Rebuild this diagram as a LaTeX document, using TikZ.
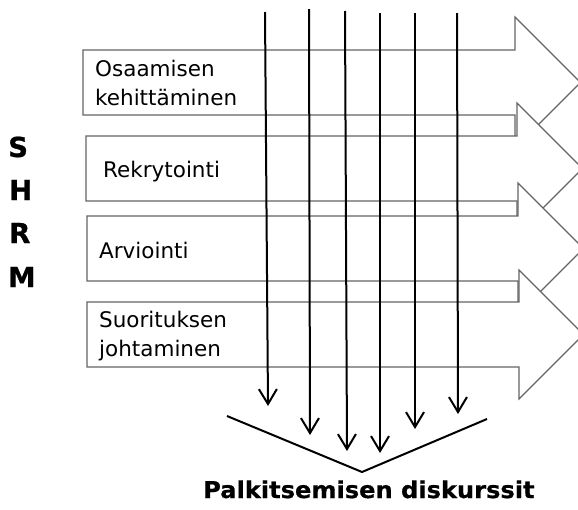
\documentclass[tikz,border=0pt]{standalone}
\usepackage{fontspec}
\setmainfont{DejaVu Sans}
\newfontfamily\bigbold[FakeStretch=1.04,FakeBold=0.6]{DejaVu Sans Bold}
\newfontfamily\sidebold[FakeBold=0.8]{DejaVu Sans Bold}
\usetikzlibrary{arrows.meta}
\definecolor{boxgray}{RGB}{100,100,100}
\begin{document}
\begin{tikzpicture}[x=1pt,y=-1pt,
  blockarrow/.style={draw=boxgray,line width=1.2pt,fill=white,line join=miter},
  flow/.style={draw=black,line width=2pt,-{Straight Barb[length=15pt,width=18pt,line width=2pt]}},
  vee/.style={draw=black,line width=2pt},
  boxtext/.style={anchor=base west,inner sep=0pt,font=\fontsize{21.5pt}{29pt}\selectfont,align=left},
  sidetext/.style={anchor=base west,inner sep=0pt,font=\sidebold\fontsize{27.5pt}{33pt}\selectfont},
  bottomtext/.style={anchor=base west,inner sep=0pt,font=\bigbold\fontsize{23.2pt}{27pt}\selectfont}]
\clip (0,0) rectangle (578,509);
\fill[white] (0,0) rectangle (578,509);
% block arrows
\draw[blockarrow] (83,50) -- (515,50) -- (515,17) -- (580.5,82.5) -- (515,148) -- (515,115) -- (83,115) -- cycle;
\draw[blockarrow] (86,136) -- (517,136) -- (517,103) -- (582.5,168.5) -- (517,234) -- (517,201) -- (86,201) -- cycle;
\draw[blockarrow] (87,216) -- (518,216) -- (518,183) -- (583.5,248.5) -- (518,314) -- (518,281) -- (87,281) -- cycle;
\draw[blockarrow] (87,302) -- (519,302) -- (519,270) -- (583.5,334.5) -- (519,399) -- (519,367) -- (87,367) -- cycle;
% texts
\node[boxtext] (t1) at (95,76.7) {Osaamisen};
\node[boxtext] (t1b) at (95,105.7) {kehittäminen};
\node[boxtext] (t2) at (103,177) {Rekrytointi};
\node[boxtext] (t3) at (99,258) {Arviointi};
\node[boxtext] (t4) at (99,327.5) {Suorituksen};
\node[boxtext] (t4b) at (99,356.5) {johtaminen};
\node[sidetext] (s) at (8,157) {S};
\node[sidetext] (h) at (9,200) {H};
\node[sidetext] (r) at (9,243) {R};
\node[sidetext] (m) at (8,287) {M};
\node[bottomtext] (pd) at (203,498) {Palkitsemisen diskurssit};
% vertical arrows
\coordinate (a1) at (265,12);  \coordinate (b1) at (268,406);
\coordinate (a2) at (309,9);   \coordinate (b2) at (310,435);
\coordinate (a3) at (345,11);  \coordinate (b3) at (347,451);
\coordinate (a4) at (380,13);  \coordinate (b4) at (380,453);
\coordinate (a5) at (415,13);  \coordinate (b5) at (415,429);
\coordinate (a6) at (457,13);  \coordinate (b6) at (458,414);
\foreach \i in {1,...,6}{\draw[flow] (a\i) -- (b\i);}
% V
\coordinate (vl) at (227,416);
\coordinate (vb) at (362,472);
\coordinate (vr) at (487,419);
\draw[vee] (vl) -- (vb) -- (vr);
\end{tikzpicture}
\end{document}
